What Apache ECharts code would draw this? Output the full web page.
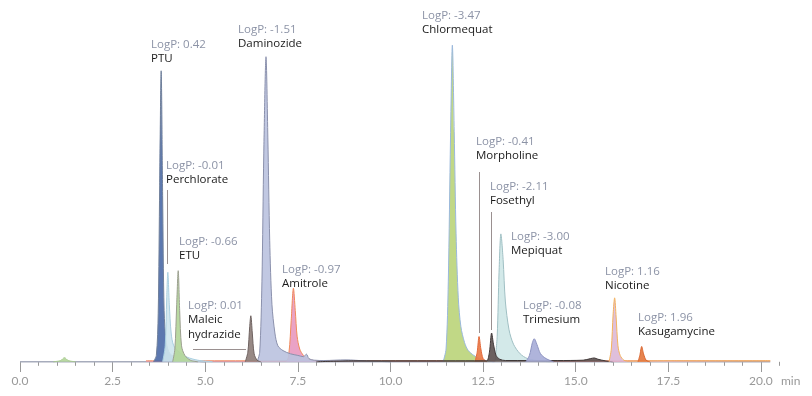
<!DOCTYPE html>
<html>
<head>
<meta charset="utf-8">
<script src="https://cdn.jsdelivr.net/npm/echarts@6/dist/echarts.min.js"></script>
<style>
  html, body { margin: 0; padding: 0; background: #fff; }
  #chart { width: 812px; height: 396px; }
</style>
</head>
<body>
<div id="chart"></div>
<script>
// retention time (min), intensity (% of largest peak)
const baseline = [[0, 0], [20.25, 0]]
const bump = [[0.9, 0], [1.1, 0.4], [1.2, 1.3], [1.3, 0.4], [1.5, 0]]
const ptu = [[3.6, 0], [3.68, 2], [3.73, 15], [3.77, 55], [3.81, 91], [3.85, 52], [3.89, 16], [3.95, 6], [4.05, 2.5], [4.3, 1], [4.6, 0.3], [5, 0]]
const perchlorate = [[3.85, 0], [3.92, 5], [3.96, 20], [3.99, 28], [4.03, 18], [4.08, 9], [4.15, 5], [4.3, 3], [4.5, 1.5], [4.8, 0.5], [5.2, 0]]
const etu = [[4.12, 0], [4.18, 4], [4.23, 18], [4.27, 28.5], [4.31, 16], [4.36, 5], [4.45, 2], [4.6, 0.5], [4.8, 0]]
const maleic = [[6.08, 0], [6.15, 3], [6.2, 11], [6.23, 14.4], [6.27, 9], [6.32, 2.5], [6.4, 0.5], [6.5, 0]]
const daminozide = [[6.4, 0], [6.47, 3], [6.53, 25], [6.58, 65], [6.64, 95.4], [6.69, 70], [6.74, 38], [6.8, 18], [6.88, 9], [6.96, 5], [7.1, 3.5], [7.3, 2.5], [7.5, 2], [7.65, 1.6], [7.73, 2.4], [7.8, 1], [7.95, 0.5], [8.2, 0.4], [8.8, 0.6], [9.3, 0.3], [10, 0]]
const amitrole = [[3.4, 0.3], [5, 0.3], [7.18, 0.3], [7.26, 3], [7.32, 13], [7.38, 23], [7.43, 16], [7.48, 8], [7.55, 4], [7.65, 2], [7.8, 0.8], [8, 0.3], [12, 0.3], [16, 0.3], [20.25, 0.3]]
const chlormequat = [[11.42, 0], [11.5, 4], [11.56, 25], [11.62, 70], [11.67, 99], [11.72, 72], [11.77, 40], [11.83, 20], [11.9, 11], [12, 6], [12.1, 3.5], [12.25, 2], [12.4, 1], [12.6, 0.3], [12.8, 0]]
const morpholine = [[12.28, 0], [12.34, 3], [12.39, 7.9], [12.44, 4], [12.5, 1], [12.6, 0]]
const fosethyl = [[8, 0], [9, 0.3], [10.5, 0.3], [12.5, 0.3], [12.6, 0.3], [12.67, 3], [12.73, 9], [12.78, 5.5], [12.85, 2], [12.95, 0.8], [13.1, 0.4], [14.5, 0.4], [15.2, 0.5], [15.4, 1], [15.5, 1.2], [15.6, 0.8], [15.8, 0.3], [16, 0]]
const mepiquat = [[12.82, 0], [12.88, 8], [12.93, 28], [12.98, 40], [13.04, 32], [13.1, 19], [13.2, 10], [13.32, 5.5], [13.5, 2.5], [13.7, 1], [14, 0.3], [14.3, 0]]
const trimesium = [[13.65, 0], [13.75, 2], [13.83, 6], [13.88, 7.2], [13.95, 5.5], [14.05, 2.5], [14.2, 1], [14.4, 0]]
const nicotine = [[15.9, 0], [15.96, 4], [16.01, 15], [16.05, 20], [16.09, 14], [16.14, 5], [16.2, 2], [16.3, 0.5], [16.45, 0.2], [17.5, 0.3], [20.25, 0.3]]
const kasugamycine = [[16.68, 0], [16.73, 2], [16.78, 4.8], [16.83, 2.5], [16.9, 0.5], [17, 0]]

const names = ['PTU', 'Perchlorate', 'ETU', 'Maleic\nhydrazide', 'Daminozide', 'Amitrole', 'Chlormequat', 'Morpholine', 'Fosethyl', 'Mepiquat', 'Trimesium', 'Nicotine', 'Kasugamycine']
const logP = ['0.42', '-0.01', '-0.66', '0.01', '-1.51', '-0.97', '-3.47', '-0.41', '-2.11', '-3.00', '-0.08', '1.16', '1.96']
const majorTicks = [0, 2.5, 5, 7.5, 10, 12.5, 15, 17.5, 20]

// label layout: left x, baseline of "LogP" line
const labelAt = [[151, 49], [166, 170], [179, 246], [188, 310], [238, 34], [282, 274], [422, 20], [476, 146], [490, 191], [511, 241], [523, 310], [605, 276], [638, 322]]
// leader lines [x1, y1, x2, y2]
const leaders = [[167.5, 190, 167.5, 264], [479.5, 172, 479.5, 333], [491.5, 212, 491.5, 330], [193, 349.5, 246, 349.5]]

function peak(data, fill, line, z) {
  return {
    type: 'line',
    data: data,
    smooth: 0.3,
    symbol: 'none',
    silent: true,
    z: z,
    lineStyle: { width: 1, color: line },
    areaStyle: { color: fill, opacity: 0.92 }
  }
}

const font = '11.5px "Open Sans"'
const graphics = []
names.forEach(function (n, i) {
  const p = labelAt[i]
  const lines = n.split('\n').length
  graphics.push({
    type: 'text', x: p[0], y: p[1] - 4, silent: true,
    style: { text: 'LogP: ' + logP[i], fill: '#8c93a6', font: font, verticalAlign: 'middle' }
  })
  graphics.push({
    type: 'text', x: p[0], y: p[1] + 10 + (lines - 1) * 7.5, silent: true,
    style: { text: n, fill: '#1a1a1a', font: font, verticalAlign: 'middle', lineHeight: 15 }
  })
})
leaders.forEach(function (l) {
  graphics.push({
    type: 'line', silent: true,
    shape: { x1: l[0], y1: l[1], x2: l[2], y2: l[3] },
    style: { stroke: '#9a9090', lineWidth: 1 }
  })
})
graphics.push({
  type: 'text', x: 781, y: 381, silent: true,
  style: { text: 'min', fill: '#999', font: '12px Lato', verticalAlign: 'middle' }
})

const chart = echarts.init(document.getElementById('chart'))
chart.setOption({
  animation: false,
  grid: { left: 20, right: 32.5, top: 42, bottom: 31 },
  xAxis: [{
    type: 'value',
    min: 0,
    max: 20.5,
    interval: 0.5,
    axisLine: { show: false },
    axisTick: { length: 4, lineStyle: { color: '#999' } },
    axisLabel: { show: false },
    splitLine: { show: false }
  }, {
    type: 'value',
    position: 'bottom',
    min: 0,
    max: 20.5,
    axisLine: { show: false },
    axisTick: { length: 7, customValues: majorTicks, lineStyle: { color: '#999' } },
    axisLabel: {
      customValues: majorTicks,
      margin: 10,
      color: '#999',
      fontFamily: 'Lato',
      fontSize: 12,
      formatter: function (v) { return v.toFixed(1) }
    },
    splitLine: { show: false }
  }],
  yAxis: { type: 'value', min: -1, max: 100, show: false },
  graphic: graphics,
  series: [
    { type: 'line', data: baseline, symbol: 'none', silent: true, z: 1, lineStyle: { width: 1.5, color: '#a7acbc' } },
    peak(bump, '#b3d69a', '#a6c98e', 2),
    peak(amitrole, '#e89ac0', '#f08a5a', 3),
    peak(daminozide, '#bcc3e0', '#8a90ac', 4),
    peak(maleic, '#8e7f7b', '#6e6260', 5),
    peak(ptu, '#4e6ca8', '#6f7f9a', 6),
    peak(perchlorate, '#cfe6ee', '#a9cfe0', 7),
    peak(etu, '#b3d69a', '#9c9f90', 8),
    peak(chlormequat, '#bcd57c', '#9ab8dc', 9),
    peak(mepiquat, '#cfe7e7', '#9fbfc3', 10),
    peak(morpholine, '#ea7a47', '#e3693a', 11),
    peak(fosethyl, '#5e5452', '#3f3737', 12),
    peak(trimesium, '#a8aed8', '#8d93c0', 13),
    peak(nicotine, '#dcbad8', '#f3b25c', 14),
    peak(kasugamycine, '#e47a40', '#d9652e', 15)
  ]
})
</script>
</body>
</html>
